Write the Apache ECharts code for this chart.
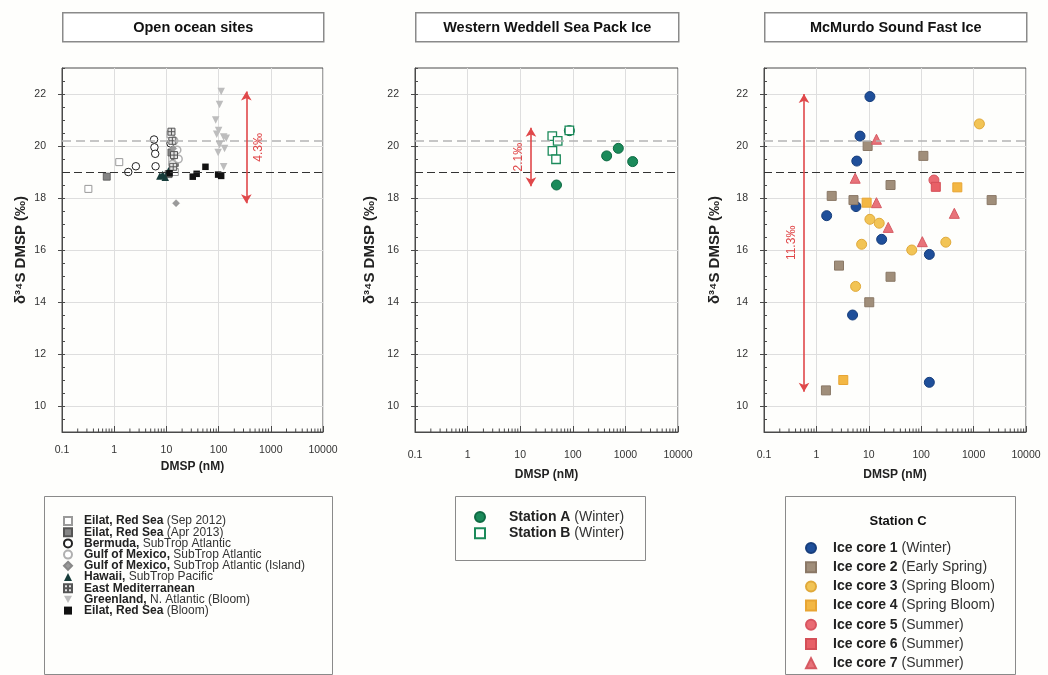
<!DOCTYPE html>
<html>
<head>
<meta charset="utf-8">
<script src="https://cdn.jsdelivr.net/npm/echarts@6/dist/echarts.min.js"></script>
<style>
  html, body { margin: 0; padding: 0; background: #fefefc; }
  #chart { width: 1048px; height: 675px; }
</style>
</head>
<body>
<div id="chart"></div>
<script>
// ---- axes ----
const yMin = 9, yMax = 23;
const yTicks = [10, 12, 14, 16, 18, 20, 22];
const xTickValues = [0.1, 1, 10, 100, 1000, 10000];
const xTickLabels = ['0.1', '1', '10', '100', '1000', '10000'];
const panelTitles = ['Open ocean sites', 'Western Weddell Sea Pack Ice', 'McMurdo Sound Fast Ice'];

// ---- reference levels (‰) ----
const refGrey = 20.2;
const refBlack = 19.0;

// ---- range arrows per panel ----
const spreadX = [340, 16, 0.58];
const spreadLow = [17.8, 18.45, 10.55];
const spreadHigh = [22.1, 20.7, 22.0];
const spreadLabels = ['4.3‰', '2.1‰', '11.3‰'];

// ---- open ocean sites: [DMSP nM, δ34S ‰] ----
const eilatSep2012 = [[0.32, 18.35], [1.25, 19.38], [12, 20.45], [13, 19.5], [14.5, 19.0]];
const eilatApr2013 = [[0.72, 18.82], [12.5, 19.75], [14.5, 19.35], [11, 18.92]];
const bermuda = [[1.86, 19.0], [2.6, 19.22], [5.8, 20.25], [5.9, 19.95], [6.1, 19.7], [6.2, 19.22], [12, 20.1]];
const gulfOfMexico = [[14, 20.2], [16, 19.85], [17, 19.5], [13, 19.3]];
const gulfOfMexicoIsland = [[15.3, 17.8], [13.5, 19.9]];
const hawaii = [[7.5, 18.85], [8.5, 18.9], [9.5, 18.8], [11, 19.05]];
const eastMed = [[12.5, 20.55], [13, 20.2], [14, 19.65], [13.5, 19.2]];
const greenland = [[112, 22.1], [104, 21.6], [88, 21.0], [100, 20.6], [125, 20.35], [92, 20.45],
                   [140, 20.3], [104, 20.05], [130, 19.9], [98, 19.75], [125, 19.2]];
const eilatBloom = [[11.5, 18.95], [32, 18.82], [38, 18.93], [56, 19.2], [98, 18.9], [112, 18.85]];

// ---- Western Weddell Sea pack ice ----
const stationA = [[86, 20.59], [49, 18.5], [440, 19.62], [733, 19.91], [1374, 19.4]];
const stationB = [[40.7, 20.38], [51.6, 20.2], [41, 19.81], [48, 19.49], [86, 20.6]];

// ---- McMurdo Sound fast ice ----
const iceCore1 = [[10.5, 21.9], [6.8, 20.38], [5.9, 19.42], [5.7, 17.67], [1.57, 17.32],
                  [17.6, 16.41], [143, 15.83], [4.9, 13.5], [143, 10.91]];
const iceCore2 = [[9.5, 20.0], [110, 19.62], [26, 18.5], [1.96, 18.08], [5.1, 17.92],
                  [2210, 17.92], [2.7, 15.4], [26, 14.97], [10.2, 13.99], [1.52, 10.6]];
const iceCore3 = [[1290, 20.85], [10.5, 17.18], [15.8, 17.03], [7.3, 16.22], [66, 16.0],
                  [295, 16.3], [5.6, 14.6]];
const iceCore4 = [[489, 18.41], [9.1, 17.82], [3.26, 11.0]];
const iceCore5 = [[175, 18.69]];
const iceCore6 = [[190, 18.43]];
const iceCore7 = [[14, 20.26], [5.5, 18.76], [14, 17.82], [23.5, 16.87], [429, 17.41], [105, 16.32]];

// ---- legend label parts (bold part, regular part) ----
const openNamesBold = ['Eilat, Red Sea', 'Eilat, Red Sea', 'Bermuda,', 'Gulf of Mexico,', 'Gulf of Mexico,',
                       'Hawaii,', 'East Mediterranean', 'Greenland,', 'Eilat, Red Sea'];
const openNamesRest = [' (Sep 2012)', ' (Apr 2013)', ' SubTrop Atlantic', ' SubTrop Atlantic',
                       ' SubTrop Atlantic (Island)', ' SubTrop Pacific', '', ' N. Atlantic (Bloom)', ' (Bloom)'];
const weddellNamesBold = ['Station A', 'Station B'];
const weddellNamesRest = [' (Winter)', ' (Winter)'];
const mcmurdoNamesBold = ['Ice core 1', 'Ice core 2', 'Ice core 3', 'Ice core 4', 'Ice core 5', 'Ice core 6', 'Ice core 7'];
const mcmurdoNamesRest = [' (Winter)', ' (Early Spring)', ' (Spring Bloom)', ' (Spring Bloom)', ' (Summer)', ' (Summer)', ' (Summer)'];

// log minor ticks 2..9 in each decade
const minorXTicks = [];
for (let d = 0.1; d < 10000; d *= 10) {
  for (let k = 2; k <= 9; k++) minorXTicks.push(+(d * k).toPrecision(3));
}

const FONT = 'Liberation Sans, Arial, sans-serif';

const gridDefs = [
  { left: 62, width: 261 },
  { left: 415, width: 263 },
  { left: 764, width: 262 }
];
const yNameGap = [34, 38, 42];
const xLabelMargin = [13, 18, 18];
const xNameGap = [27, 37, 37];

const grids = gridDefs.map(g => ({
  left: g.left, width: g.width, top: 68, height: 364,
  show: true, borderColor: '#4a4a4a', borderWidth: 1, backgroundColor: 'transparent'
}));

const xAxes = gridDefs.map((g, i) => ({
  type: 'log', logBase: 10, gridIndex: i, min: 0.1, max: 10000,
  name: 'DMSP (nM)', nameLocation: 'middle', nameGap: xNameGap[i],
  nameTextStyle: { fontFamily: FONT, fontWeight: 'bold', fontSize: 12, color: '#222' },
  axisLine: { show: true, lineStyle: { color: '#4a4a4a', width: 1 } },
  axisTick: { show: true, inside: true, length: 6, lineStyle: { color: '#4a4a4a' } },
  axisLabel: {
    margin: xLabelMargin[i], fontFamily: FONT, fontSize: 10.5, color: '#333',
    formatter: v => {
      const idx = xTickValues.findIndex(t => Math.abs(Math.log10(t) - Math.log10(v)) < 1e-6);
      return idx >= 0 ? xTickLabels[idx] : '';
    }
  },
  splitLine: { show: true, lineStyle: { color: '#dedede', width: 1 } },
  minorTick: { show: false }
}));

const yAxes = [];
gridDefs.forEach((g, i) => {
  yAxes.push({
    type: 'value', gridIndex: i, min: yMin, max: yMax, interval: 1,
    name: 'δ³⁴S DMSP (‰)', nameLocation: 'middle', nameGap: yNameGap[i], nameRotate: 90,
    nameTextStyle: { fontFamily: FONT, fontWeight: 'bold', fontSize: 15, color: '#222' },
    axisLine: { show: true, lineStyle: { color: '#4a4a4a', width: 1 } },
    axisTick: { show: true, inside: false, length: 4, customValues: yTicks, lineStyle: { color: '#4a4a4a' } },
    axisLabel: { margin: 16, fontFamily: FONT, fontSize: 10.5, color: '#333', customValues: yTicks },
    splitLine: { show: true, lineStyle: { color: '#dedede', width: 1 } }
  });
  // short inner ticks every 0.5
  yAxes.push({
    type: 'value', gridIndex: i, min: yMin, max: yMax, interval: 0.5, position: 'left', offset: 0,
    axisLine: { show: false },
    axisTick: { show: true, inside: true, length: 3, lineStyle: { color: '#4a4a4a' } },
    axisLabel: { show: false }, splitLine: { show: false }
  });
});

function scatter(name, data, panel, symbol, size, itemStyle) {
  return {
    type: 'scatter', name, data, xAxisIndex: panel, yAxisIndex: panel * 2,
    symbol, symbolSize: size, itemStyle: Object.assign({ opacity: 1 }, itemStyle),
    emphasis: { disabled: true }, z: 3
  };
}

const crossSquare = 'path://M0,0L10,0L10,10L0,10Z M5,0L5,10 M0,5L10,5';
const downTri = 'path://M0,0L10,0L5,9Z';

const openNames = openNamesBold.map((b, i) => b + openNamesRest[i]);
const weddellNames = weddellNamesBold.map((b, i) => b + weddellNamesRest[i]);
const mcmurdoNames = mcmurdoNamesBold.map((b, i) => b + mcmurdoNamesRest[i]);

const series = [
  scatter(openNames[0], eilatSep2012, 0, 'rect', 7, { color: '#ffffff', borderColor: '#9a9a9a', borderWidth: 1 }),
  scatter(openNames[1], eilatApr2013, 0, 'rect', 7, { color: '#858585', borderColor: '#555', borderWidth: 0.8 }),
  scatter(openNames[2], bermuda, 0, 'circle', 7.5, { color: '#ffffff', borderColor: '#222', borderWidth: 1 }),
  scatter(openNames[3], gulfOfMexico, 0, 'circle', 7.5, { color: '#ffffff', borderColor: '#b0b0b0', borderWidth: 1.5 }),
  scatter(openNames[4], gulfOfMexicoIsland, 0, 'diamond', 7, { color: '#9a9a9a', borderColor: '#888', borderWidth: 0.5 }),
  scatter(openNames[5], hawaii, 0, 'triangle', 7.5, { color: '#173c3a' }),
  scatter(openNames[6], eastMed, 0, crossSquare, 7, { color: '#e2e2e2', borderColor: '#555', borderWidth: 1 }),
  scatter(openNames[7], greenland, 0, downTri, 7.5, { color: '#bdbdbd' }),
  scatter(openNames[8], eilatBloom, 0, 'rect', 6.5, { color: '#111' }),

  scatter(weddellNames[0], stationA, 1, 'circle', 10, { color: '#1b8a5a', borderColor: '#0e6a43', borderWidth: 1 }),
  scatter(weddellNames[1], stationB, 1, 'rect', 8.5, { color: '#ffffff', borderColor: '#1b8a5a', borderWidth: 1.3 }),

  scatter(mcmurdoNames[0], iceCore1, 2, 'circle', 10, { color: '#1f4f9a', borderColor: '#173e7c', borderWidth: 1 }),
  scatter(mcmurdoNames[1], iceCore2, 2, 'rect', 9, { color: '#a08e7a', borderColor: '#8a7866', borderWidth: 1 }),
  scatter(mcmurdoNames[2], iceCore3, 2, 'circle', 10, { color: '#f2c455', borderColor: '#e0a93a', borderWidth: 1 }),
  scatter(mcmurdoNames[3], iceCore4, 2, 'rect', 9, { color: '#f3b744', borderColor: '#e8a533', borderWidth: 1 }),
  scatter(mcmurdoNames[4], iceCore5, 2, 'circle', 10, { color: '#ea6b73', borderColor: '#d85560', borderWidth: 1 }),
  scatter(mcmurdoNames[5], iceCore6, 2, 'rect', 9, { color: '#e86067', borderColor: '#d44f57', borderWidth: 1 }),
  scatter(mcmurdoNames[6], iceCore7, 2, 'triangle', 10, { color: '#e8737a', borderColor: '#d65a62', borderWidth: 1 })
];

// reference lines, range arrows and minor log ticks for each panel
gridDefs.forEach((g, i) => {
  series.push({
    type: 'scatter', name: '__ref' + i, data: [], xAxisIndex: i, yAxisIndex: i * 2, silent: true, z: 2,
    markLine: {
      silent: true, symbol: 'none', animation: false,
      label: { show: false },
      data: [
        { yAxis: refGrey, lineStyle: { color: '#b4b4b4', type: [9, 5], width: 1.6 } },
        { yAxis: refBlack, lineStyle: { color: '#333', type: [8, 4], width: 1 } }
      ]
    }
  });
  series.push({
    type: 'scatter', name: '__spread' + i, data: [], xAxisIndex: i, yAxisIndex: i * 2, silent: true, z: 4,
    markLine: {
      silent: true, animation: false,
      symbol: ['arrow', 'arrow'], symbolSize: [8, 9],
      lineStyle: { color: '#e0484a', width: 1.6, type: 'solid' },
      label: {
        show: true, formatter: spreadLabels[i],
        position: i === 0 ? 'insideMiddleBottom' : 'insideMiddleTop',
        distance: 6, color: '#e0484a', fontFamily: FONT, fontSize: 12
      },
      data: [[{ coord: [spreadX[i], spreadLow[i]] }, { coord: [spreadX[i], spreadHigh[i]] }]]
    }
  });
  series.push({
    type: 'custom', name: '__minor' + i, xAxisIndex: i, yAxisIndex: i * 2, silent: true, clip: false, z: 5,
    data: minorXTicks.map(v => [v, yMin]),
    renderItem: (params, api) => {
      const p = api.coord([api.value(0), api.value(1)]);
      return { type: 'line', shape: { x1: p[0], y1: p[1], x2: p[0], y2: p[1] - 3.5 },
               style: { stroke: '#4a4a4a', lineWidth: 1 } };
    }
  });
});

function richFormatter(boldArr, restArr, names) {
  return name => {
    const i = names.indexOf(name);
    return restArr[i] ? '{b|' + boldArr[i] + '}{r|' + restArr[i] + '}' : '{b|' + boldArr[i] + '}';
  };
}
function legendText(size, lh, pad) {
  return {
    fontFamily: FONT, fontSize: size, color: '#222', padding: [0, 0, 0, pad],
    rich: {
      b: { fontFamily: FONT, fontSize: size, fontWeight: 'bold', color: '#222', lineHeight: lh },
      r: { fontFamily: FONT, fontSize: size, color: '#333', lineHeight: lh }
    }
  };
}

const legends = [
  {
    data: openNames, orient: 'vertical', left: 63, top: 515, padding: 0, itemWidth: 8, itemHeight: 8, itemGap: -0.8,
    selectedMode: false, formatter: richFormatter(openNamesBold, openNamesRest, openNames), textStyle: legendText(12, 11, 7)
  },
  {
    data: weddellNames, orient: 'vertical', left: 474, top: 510, padding: 0, itemWidth: 10, itemHeight: 10, itemGap: 2.3,
    selectedMode: false, formatter: richFormatter(weddellNamesBold, weddellNamesRest, weddellNames), textStyle: legendText(14, 14, 19)
  },
  {
    data: mcmurdoNames, orient: 'vertical', left: 805, top: 541, padding: 0, itemWidth: 10, itemHeight: 10, itemGap: 5.2,
    selectedMode: false, formatter: richFormatter(mcmurdoNamesBold, mcmurdoNamesRest, mcmurdoNames), textStyle: legendText(14, 15, 12)
  }
];

const titleBoxes = gridDefs.map((g, i) => ({
  type: 'group', left: g.left, top: 12,
  children: [
    { type: 'rect', shape: { x: 0, y: 0, width: g.width, height: 29 },
      style: { fill: '#fff', stroke: '#8a8a8a', lineWidth: 1.5 } },
    { type: 'text', x: g.width / 2, y: 15,
      style: { text: panelTitles[i], fill: '#111', font: 'bold 14.5px ' + FONT, align: 'center', verticalAlign: 'middle' } }
  ]
}));

const legendBoxes = [
  { type: 'rect', left: 42, top: 494, shape: { width: 288, height: 178 }, style: { fill: 'none', stroke: '#8a8a8a', lineWidth: 1 } },
  { type: 'rect', left: 453, top: 494, shape: { width: 190, height: 64 }, style: { fill: 'none', stroke: '#8a8a8a', lineWidth: 1 } },
  { type: 'rect', left: 783, top: 494, shape: { width: 230, height: 178 }, style: { fill: 'none', stroke: '#8a8a8a', lineWidth: 1 } },
  { type: 'text', x: 898, y: 521,
    style: { text: 'Station C', fill: '#111', font: 'bold 13px ' + FONT, align: 'center', verticalAlign: 'middle' } }
];

const chart = echarts.init(document.getElementById('chart'), null, { renderer: 'canvas' });
chart.setOption({
  backgroundColor: '#fefefc',
  animation: false,
  grid: grids,
  xAxis: xAxes,
  yAxis: yAxes,
  legend: legends,
  graphic: titleBoxes.concat(legendBoxes),
  series: series
});
</script>
</body>
</html>
